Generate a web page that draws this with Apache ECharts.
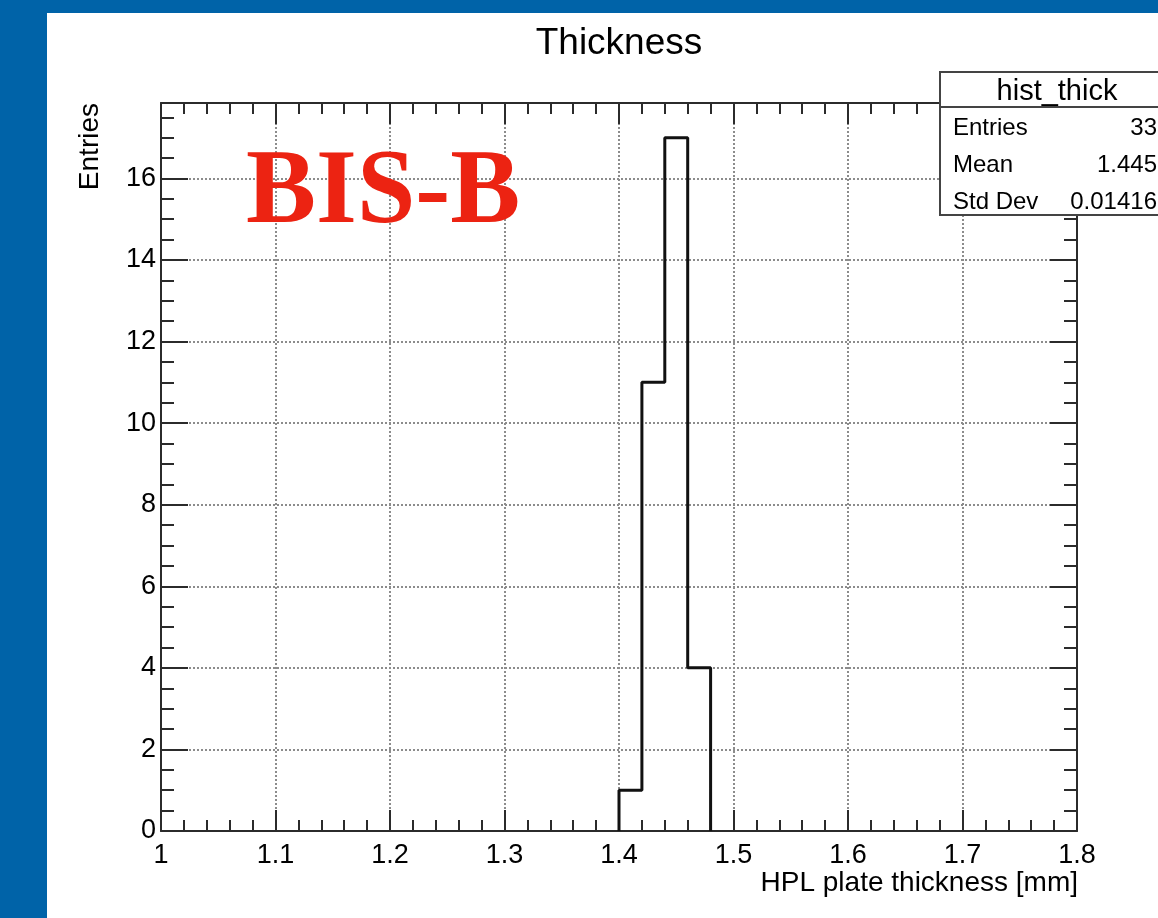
<!DOCTYPE html>
<html>
<head>
<meta charset="utf-8">
<title>Thickness</title>
<script src="https://cdn.jsdelivr.net/npm/echarts@6/dist/echarts.min.js"></script>
<style>
  html, body { margin: 0; padding: 0; width: 1158px; height: 918px; overflow: hidden; background: #0063a8; }
  #panel { position: absolute; left: 47px; top: 13px; width: 1111px; height: 905px; background: #ffffff; }
  #chart { position: absolute; left: 0; top: 0; width: 1158px; height: 918px; }
</style>
</head>
<body>
<div id="panel"></div>
<div id="chart"></div>
<script>
// Histogram bins (edges in mm) and entries per bin
const binEdges = [1.40, 1.42, 1.44, 1.46, 1.48];
const binCounts = [1, 11, 17, 4];

// Axis ranges and ticks
const xRange = [1.0, 1.8];
const xStep = 0.1;
const yRange = [0, 17.85];
const yMajorTicks = [0, 2, 4, 6, 8, 10, 12, 14, 16];
const yMinorTicks = [0.5, 1, 1.5, 2.5, 3, 3.5, 4.5, 5, 5.5, 6.5, 7, 7.5, 8.5, 9, 9.5,
                     10.5, 11, 11.5, 12.5, 13, 13.5, 14.5, 15, 15.5, 16.5, 17, 17.5];

// Statistics box contents
const statsTitle = 'hist_thick';
const statsNames = ['Entries', 'Mean', 'Std Dev'];
const statsValues = ['33', '1.445', '0.01416'];

// Step outline of the histogram built from the bins
const outline = [[binEdges[0], 0]];
for (let i = 0; i < binCounts.length; i++) {
  outline.push([binEdges[i], binCounts[i]]);
  outline.push([binEdges[i + 1], binCounts[i]]);
}
outline.push([binEdges[binEdges.length - 1], 0]);

const FONT = '"Liberation Sans", Arial, Helvetica, sans-serif';
const AXIS_COLOR = '#2b2b2b';

function xAxisDef(pos) {
  const bottom = pos === 'bottom';
  return {
    type: 'value', position: pos, min: xRange[0], max: xRange[1], interval: xStep,
    axisLine: { show: true, onZero: false, lineStyle: { color: AXIS_COLOR, width: 2 } },
    axisTick: { show: true, inside: true, length: 21, lineStyle: { color: AXIS_COLOR, width: 2 } },
    minorTick: { show: true, splitNumber: 5, length: 11, lineStyle: { color: AXIS_COLOR, width: 2 } },
    axisLabel: { show: bottom, margin: 11, color: '#000', fontSize: 27, fontFamily: FONT },
    splitLine: { show: bottom, lineStyle: { color: '#8c8c8c', width: 2, type: [2, 2] } },
    minorSplitLine: { show: false }
  };
}

function yAxisDef(pos, major) {
  const main = pos === 'left' && major;
  return {
    type: 'value', position: pos, min: yRange[0], max: yRange[1],
    axisLine: { show: major, onZero: false, lineStyle: { color: AXIS_COLOR, width: 2 } },
    axisTick: {
      show: true, inside: true, length: major ? 27 : 13,
      customValues: major ? yMajorTicks : yMinorTicks,
      lineStyle: { color: AXIS_COLOR, width: 2 }
    },
    axisLabel: {
      show: main, customValues: yMajorTicks, margin: 5,
      color: '#000', fontSize: 27, fontFamily: FONT
    },
    splitLine: { show: main, lineStyle: { color: '#8c8c8c', width: 2, type: [2, 2] } }
  };
}

const chart = echarts.init(document.getElementById('chart'), null, { renderer: 'canvas' });

const boxL = 940, boxT = 72, boxB = 215, boxR = 1175, headB = 107;

chart.setOption({
  animation: false,
  backgroundColor: 'transparent',
  grid: { left: 161, top: 103, width: 916, height: 728, containLabel: false },
  xAxis: [xAxisDef('bottom'), xAxisDef('top')],
  yAxis: [yAxisDef('left', true), yAxisDef('left', false), yAxisDef('right', true), yAxisDef('right', false)],
  series: [{
    type: 'line',
    data: outline,
    xAxisIndex: 0, yAxisIndex: 0,
    showSymbol: false,
    clip: false,
    lineStyle: { color: '#111111', width: 3 },
    z: 5
  }],
  graphic: [
    { type: 'text', x: 619, y: 44, z: 50,
      style: { text: 'Thickness', font: '37px ' + FONT, fill: '#000', textAlign: 'center', textVerticalAlign: 'middle' } },
    { type: 'text', x: 1078, y: 883, z: 50,
      style: { text: 'HPL plate thickness [mm]', font: '28px ' + FONT, fill: '#000', textAlign: 'right', textVerticalAlign: 'middle' } },
    { type: 'text', x: 90, y: 103, rotation: Math.PI / 2, z: 50,
      style: { text: 'Entries', font: '28px ' + FONT, fill: '#000', textAlign: 'right', textVerticalAlign: 'middle' } },
    { type: 'text', x: 246, y: 195, z: 50,
      style: { text: 'BIS-B', font: 'bold 105px "Liberation Serif", "Times New Roman", serif', fill: '#ec2312', textAlign: 'left', textVerticalAlign: 'middle' } },
    // statistics box
    { type: 'rect', z: 100, shape: { x: boxL, y: boxT, width: boxR - boxL, height: boxB - boxT },
      style: { fill: '#ffffff', stroke: '#444444', lineWidth: 2 } },
    { type: 'line', z: 101, shape: { x1: boxL, y1: headB, x2: boxR, y2: headB },
      style: { stroke: '#444444', lineWidth: 2 } },
    { type: 'text', x: 1057, y: 92, z: 102,
      style: { text: statsTitle, font: '29px ' + FONT, fill: '#000', textAlign: 'center', textVerticalAlign: 'middle' } }
  ].concat(statsNames.map((n, i) => ({
    type: 'text', x: 953, y: 128 + i * 37, z: 102,
    style: { text: n, font: '24px ' + FONT, fill: '#000', textAlign: 'left', textVerticalAlign: 'middle' }
  }))).concat(statsValues.map((v, i) => ({
    type: 'text', x: 1157, y: 128 + i * 37, z: 102,
    style: { text: v, font: '24px ' + FONT, fill: '#000', textAlign: 'right', textVerticalAlign: 'middle' }
  })))
});
</script>
</body>
</html>
